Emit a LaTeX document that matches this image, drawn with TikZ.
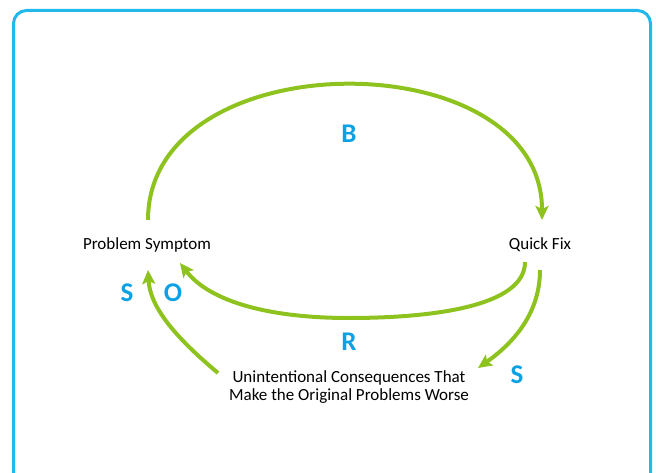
\documentclass[tikz,border=0pt]{standalone}
\usepackage{fontspec}
\setmainfont{Carlito}
\usetikzlibrary{arrows.meta,calc}
\definecolor{loopgreen}{HTML}{8DC21F}
\definecolor{labelblue}{HTML}{0BA1E2}
\definecolor{framblue}{HTML}{22B8EC}
\tikzset{
  varbox/.style={inner sep=0pt, font=\fontsize{17}{18}\selectfont, align=center, text=black},
  looplabel/.style={inner sep=0pt, font=\fontsize{27}{28}\selectfont\bfseries, text=labelblue},
  flow/.style={draw=loopgreen, line width=4pt, -{Stealth[length=14pt,width=13pt,inset=3pt]}},
}
\begin{document}
\begin{tikzpicture}[x=1pt,y=1pt]
\useasboundingbox (0,0) rectangle (656,472);
\clip (0,0) rectangle (656,472);
\draw[framblue, line width=3pt, rounded corners=13pt] (13.5,-20) rectangle (650.5,461.5);

\node[varbox] (ps) at (147,227) {Problem Symptom};
\node[varbox] (qf) at (540,227) {Quick Fix};
\node[varbox] (uc) at (349,85) {Unintentional Consequences That\\Make the Original Problems Worse};

\node[looplabel] (lb) at (349,338) {B};
\node[looplabel] (lr) at (349,130) {R};
\node[looplabel] (lo) at (173,179) {O};
\node[looplabel] (ls1) at (127,179) {S};
\node[looplabel] (ls2) at (517,97) {S};

% balancing loop
\draw[flow] ($(ps)+(1,25)$) .. controls ($(ps)+(1,205)$) and ($(qf)+(2,205)$) .. ($(qf)+(2,25)$);
% reinforcing loop inner arc
\draw[flow] ($(qf)+(-15,-17)$) .. controls ($(qf)+(-15,-62)$) and (430,154) .. (349,154)
  .. controls (270,154) and (210,170) .. ($(ps)+(33,-18)$);
% quick fix to consequences
\draw[flow] ($(qf)+(0,-25)$) .. controls ($(qf)+(0,-67)$) and ($(uc)+(166,45)$) .. ($(uc)+(129,19)$);
% consequences to symptom
\draw[flow] ($(uc)+(-131,14)$) .. controls ($(uc)+(-174,50)$) and ($(ps)+(3,-62)$) .. ($(ps)+(1,-25)$);
\end{tikzpicture}
\end{document}
